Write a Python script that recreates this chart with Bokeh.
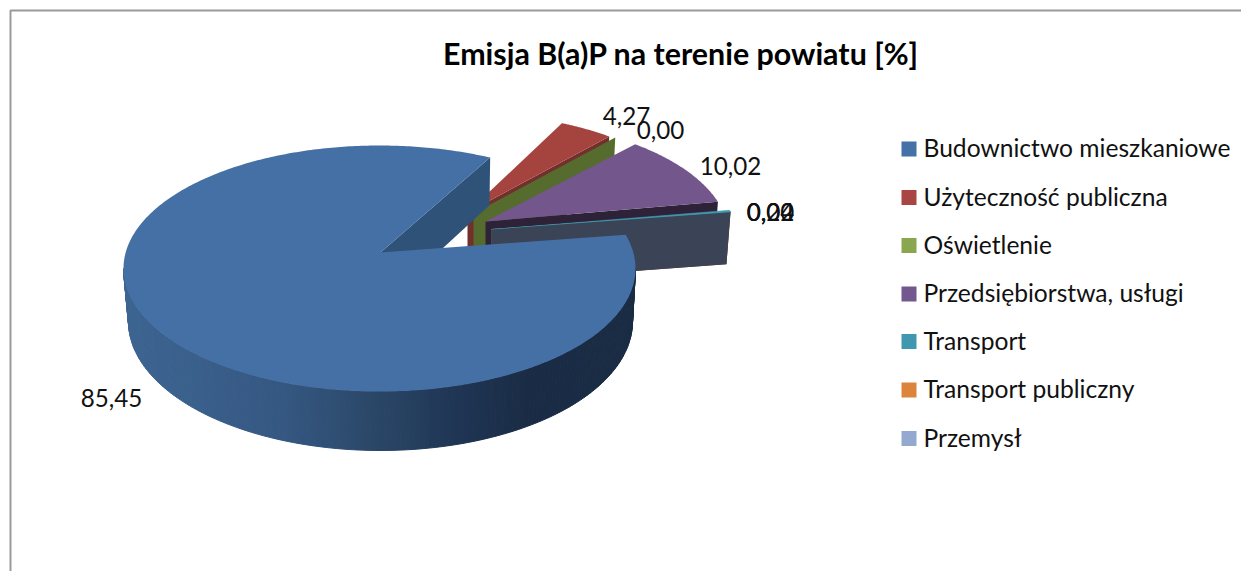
import numpy as np
from bokeh.plotting import figure
from bokeh.models import Range1d, ColumnDataSource
from bokeh.core.properties import value
from bokeh.embed import file_html
from bokeh.resources import INLINE

# ---- data ----
categories = ["Budownictwo mieszkaniowe", "Użyteczność publiczna", "Oświetlenie",
              "Przedsiębiorstwa, usługi", "Transport", "Transport publiczny", "Przemysł"]
values = [85.45, 4.27, 0.00, 10.02, 0.22, 0.04, 0.00]
value_labels = ["85,45", "4,27", "0,00", "10,02", "0,22", "0,04", "0,00"]
title_text = "Emisja B(a)P na terenie powiatu [%]"

# ---- style ----
legend_colors = ["#4371a8", "#a94644", "#8aa64f", "#73578f", "#4098b0", "#dc843b", "#93a9d0"]
top_colors = ["#4570a6", "#a5443f", "#8aa64f", "#72568c", "#3f9bb0", "#4098b0", "#93a9d0"]
wall_colors = ["#2f5278", "#72302c", "#566b2e", "#2e2238", "#2a6a78", "#8a4f20", "#3b4356"]
side_stops_x = [123, 280, 368, 457, 529, 635]
side_stops_rgb = [(61, 101, 146), (53, 88, 130), (43, 72, 105), (31, 53, 84), (26, 44, 69), (26, 44, 68)]
FONT = "Lato"

# ---- layout (page pixels) ----
START_ANGLE = 8.6
RX, RY = 256, 123
CENTER_OFFSET = (-1, 16)
BOTTOM_C = (380, 321)
BOTTOM_R = (252, 129)
apex_x = [380, 467, 473, 485, 491, 491, 491]
apex_y = [252, 212, 213, 221, 229, 229, 229]
scale = [1.0, 0.925, 0.925, 0.955, 0.975, 0.975, 0.975]
flatten = [0.48, 0.525, 0.525, 0.505, 0.48, 0.48, 0.48]
wall_h = 52
label_x = [111, 626, 660, 730, 770, 770, 770]
label_y = [397, 115, 129, 165, 211, 211, 211]
legend_x, legend_text_x = 908.5, 923
legend_y = [148.5, 197, 245, 293.5, 341, 389.5, 438]
legend_text_lift = 1.2
title_x, title_y = 680.5, 52.5


def rim(ax, ay, s, k, phi_deg):
    phi = np.radians(np.asarray(phi_deg, dtype=float))
    dx, dy = np.cos(phi), -k * np.sin(phi)
    ox, oy = -CENTER_OFFSET[0] * s, -CENTER_OFFSET[1] * s
    rx, ry = RX * s, RY * s
    a = (dx / rx) ** 2 + (dy / ry) ** 2
    b = 2 * (ox * dx / rx ** 2 + oy * dy / ry ** 2)
    c = (ox / rx) ** 2 + (oy / ry) ** 2 - 1
    t = (-b + np.sqrt(b * b - 4 * a * c)) / (2 * a)
    return ax + t * dx, ay + t * dy


def to_bottom(x, y):
    cx, cy = apex_x[0] + CENTER_OFFSET[0], apex_y[0] + CENTER_OFFSET[1]
    return (BOTTOM_C[0] + (np.asarray(x) - cx) * BOTTOM_R[0] / RX,
            BOTTOM_C[1] + (np.asarray(y) - cy) * BOTTOM_R[1] / RY)


# slice angles, clockwise from START_ANGLE
total = sum(values)
ang = [START_ANGLE]
for v in values:
    ang.append(ang[-1] - 360.0 * v / total)

p = figure(width=1241, height=571, x_range=Range1d(0, 1241), y_range=Range1d(571, 0),
           output_backend="svg", toolbar_location=None, min_border=0)
p.xaxis.visible = False
p.yaxis.visible = False
p.xgrid.visible = False
p.ygrid.visible = False
p.outline_line_color = None

# frame
p.line([10, 10, 1241], [571, 10, 10], line_color="#9a9a9a", line_width=2)

# exploded small slices, back to front
for i in range(1, 7):
    a0, a1 = ang[i], ang[i + 1]
    ax, ay, s, k = apex_x[i], apex_y[i], scale[i], flatten[i]
    ex, ey = rim(ax, ay, s, k, a1)
    wx = [ax, float(ex), float(ax + (ex - ax) * 0.983), ax]
    wy = [ay, float(ey), float(ey + wall_h), ay + wall_h]
    p.patch(wx, wy, fill_color=wall_colors[i], line_color=None)
    if values[i] > 0:
        phis = np.linspace(a0, a1, 60)
        rxs, rys = rim(ax, ay, s, k, phis)
        p.patch([ax] + list(rxs), [ay] + list(rys), fill_color=top_colors[i],
                line_color=top_colors[i] if values[i] < 1 else None, line_width=0.6)

# main slice: cut wall
sx, sy = rim(apex_x[0], apex_y[0], scale[0], flatten[0], ang[1])
bax, bay = to_bottom(apex_x[0], apex_y[0])
bsx, bsy = to_bottom(sx, sy)
p.patch([apex_x[0], float(sx), float(bsx), float(bax)],
        [apex_y[0], float(sy), float(bsy), float(bay)],
        fill_color=wall_colors[0], line_color=None)

# main slice: outer side, shaded strip by strip
cx0, cy0 = apex_x[0] + CENTER_OFFSET[0], apex_y[0] + CENTER_OFFSET[1]
ts = np.radians(np.linspace(180, 360, 161))
top_x, top_y = cx0 + RX * np.cos(ts), cy0 - RY * np.sin(ts)
bot_x, bot_y = to_bottom(top_x, top_y)
strip_xs, strip_ys, strip_cols = [], [], []
rgb = np.array(side_stops_rgb, dtype=float)
for j in range(len(ts) - 1):
    strip_xs.append([top_x[j], top_x[j + 1], bot_x[j + 1], bot_x[j]])
    strip_ys.append([top_y[j], top_y[j + 1], bot_y[j + 1], bot_y[j]])
    xm = 0.5 * (top_x[j] + top_x[j + 1])
    c = [int(round(np.interp(xm, side_stops_x, rgb[:, k]))) for k in range(3)]
    strip_cols.append("#%02x%02x%02x" % tuple(c))
p.patches(source=ColumnDataSource(dict(xs=strip_xs, ys=strip_ys, c=strip_cols)),
          xs="xs", ys="ys", fill_color="c", line_color="c", line_width=1)

# main slice: top face
phis = np.linspace(ang[0], ang[1], 400)
mx, my = rim(apex_x[0], apex_y[0], scale[0], flatten[0], phis)
p.patch([apex_x[0]] + list(mx), [apex_y[0]] + list(my), fill_color=top_colors[0], line_color=None)

# value labels
p.text(label_x, label_y, text=value_labels, text_font=value(FONT), text_font_size="24.2px",
       text_color="#111111", text_align="center", text_baseline="middle")

# legend
p.rect([legend_x] * 7, legend_y, width=15, height=15, fill_color=legend_colors, line_color=None)
p.text([legend_text_x] * 7, [y - legend_text_lift for y in legend_y], text=categories,
       text_font=value(FONT), text_font_size="24.6px",
       text_color="#111111", text_align="left", text_baseline="middle")

# title
p.text([title_x], [title_y], text=[title_text], text_font=value(FONT), text_font_size="30.4px",
       text_font_style="bold", text_color="#000000", text_align="center", text_baseline="middle")

open("out.html", "w").write(file_html(p, INLINE))
